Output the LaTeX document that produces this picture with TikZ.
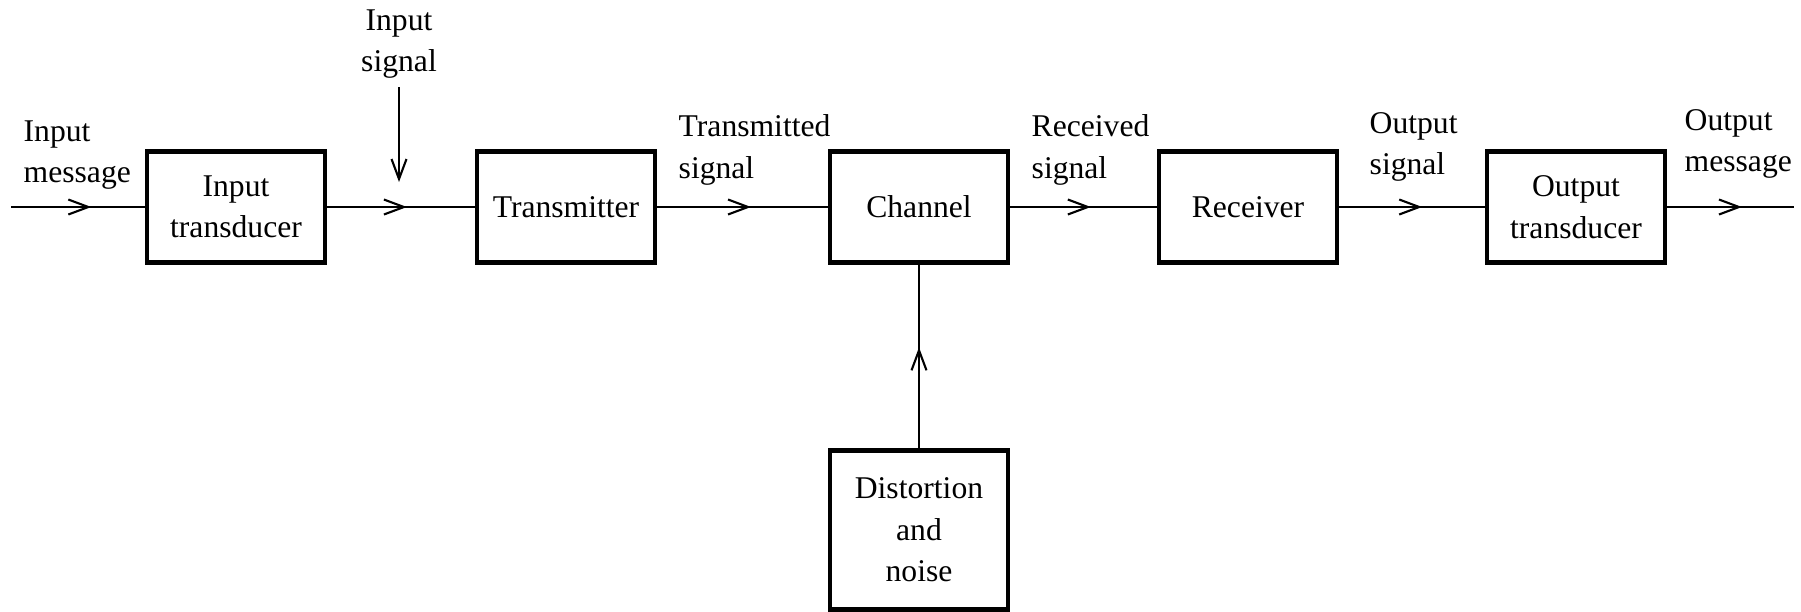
\documentclass[tikz,border=0pt]{standalone}
\usepackage{fontspec}
\setmainfont{Liberation Serif}
\usetikzlibrary{arrows.meta,decorations.markings}
\begin{document}
\begin{tikzpicture}[font=\fontsize{9}{11.8}\selectfont,
		block/.style={draw,line width=1.2pt,minimum width=1.78cm,minimum height=1.11cm,align=center,inner sep=1pt},
		sig/.style={line width=0.6pt},
		barb/.style={-{Straight Barb[length=2mm,width=1.5mm]}},
		midarrow/.style={sig,postaction={decorate},decoration={markings,mark=at position #1 with {\arrow{Straight Barb[length=2mm,width=1.5mm]}}}},
		lbl/.style={align=left,anchor=west,inner sep=0pt}]
			\useasboundingbox (0,0) rectangle (18.01,6.11);
			\node[block] (it) at (2.36,4.04) {Input\\transducer};
			\node[block] (tx) at (5.66,4.04) {Transmitter};
			\node[block] (ch) at (9.19,4.04) {Channel};
			\node[block] (rx) at (12.48,4.04) {Receiver};
			\node[block] (ot) at (15.76,4.04) {Output\\transducer};
			\node[block,minimum height=1.59cm] (dn) at (9.19,0.81) {Distortion\\and\\noise};
			\coordinate (in) at (0.11,4.04);
			\coordinate (out) at (17.94,4.04);
			\coordinate (ist) at (3.99,4.29);
			\node[lbl] (im) at (0.23,4.56) {Input\\message};
			\node[align=center,inner sep=0pt] (is) at (3.99,5.67) {Input\\signal};
			\node[lbl] (ts) at (6.78,4.61) {Transmitted\\signal};
			\node[lbl] (rs) at (10.31,4.61) {Received\\signal};
			\node[lbl] (os) at (13.69,4.64) {Output\\signal};
			\node[lbl] (om) at (16.84,4.67) {Output\\message};
			\draw[midarrow=0.6] (in) -- (it);
			\draw[midarrow=0.54] (it) -- (tx);
			\draw[midarrow=0.55] (tx) -- (ch);
			\draw[midarrow=0.55] (ch) -- (rx);
			\draw[midarrow=0.57] (rx) -- (ot);
			\draw[midarrow=0.59] (ot) -- (out);
			\draw[midarrow=0.55] (dn) -- (ch);
			\draw[sig,barb,shorten <=0.8mm] (is) -- (ist);
		\end{tikzpicture}
\end{document}
